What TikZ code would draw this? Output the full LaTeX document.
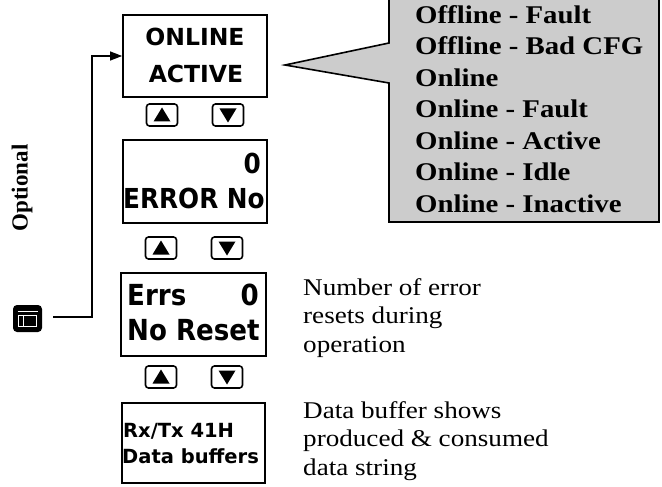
\documentclass[tikz,border=0pt]{standalone}
\usepackage{fontspec}
\setmainfont{Liberation Serif}
\newfontfamily\wideserif[FakeStretch=1.13]{Liberation Serif}
\newfontfamily\lcdfont{DejaVu Sans}
\newfontfamily\lcdnarrow[FakeStretch=0.9]{DejaVu Sans}
\usetikzlibrary{arrows.meta,calc}
\tikzset{
  lcdbox/.style={draw, line width=1.8pt, inner sep=0pt},
  btn/.style={draw, line width=1.6pt, rounded corners=3pt, minimum width=31pt, minimum height=22pt, inner sep=0pt},
  lcdA/.style={inner sep=0pt, font=\lcdfont\bfseries\fontsize{23.5}{26}\selectfont},
  lcdB/.style={inner sep=0pt, font=\lcdnarrow\bfseries\fontsize{27.5}{30}\selectfont},
  lcdD/.style={inner sep=0pt, font=\lcdnarrow\bfseries\fontsize{29}{32}\selectfont},
  lcdC/.style={inner sep=0pt, font=\lcdfont\bfseries\fontsize{19.5}{22}\selectfont},
  note/.style={inner sep=0pt, align=left, font=\wideserif\fontsize{24}{28.5}\selectfont},
  calltext/.style={inner sep=0pt, align=left, font=\wideserif\bfseries\fontsize{25.5}{31.5}\selectfont},
  conn/.style={line width=1.2pt},
}
\newcommand\btnup[2]{\node[btn] (#1) at (#2) {};
  \fill (#1.center) ++(0,-7.5) -- ++(8.5,14) -- ++(-17,0) -- cycle;}
\newcommand\btndown[2]{\node[btn] (#1) at (#2) {};
  \fill (#1.center) ++(0,7.5) -- ++(8.5,-14) -- ++(-17,0) -- cycle;}
\begin{document}
\begin{tikzpicture}[x=1pt,y=-1pt]
\useasboundingbox (0,0) rectangle (662,487);
\clip (0,0) rectangle (662,487);
% callout
\draw[line width=1.6pt, fill=black!20] (389,-5) -- (659,-5) -- (659,222) -- (389,222) -- (389,83) -- (285,65) -- (389,43) -- cycle;
\node[calltext, anchor=base west] (states) at (415,212) {Offline - Fault\\Offline - Bad CFG\\Online\\Online - Fault\\Online - Active\\Online - Idle\\Online - Inactive};
% LCD boxes
\node[lcdbox, minimum width=144pt, minimum height=82pt] (box1) at (195,56) {};
\node[lcdbox, minimum width=144pt, minimum height=83pt] (box2) at (195,181.5) {};
\node[lcdbox, minimum width=145pt, minimum height=83pt] (box3) at (193.5,314.5) {};
\node[lcdbox, minimum width=143pt, minimum height=80pt] (box4) at (193.5,443) {};
\node[lcdA, anchor=base] (t1a) at (195,46) {ONLINE};
\node[lcdA, anchor=base] (t1b) at (196,83) {ACTIVE};
\node[lcdB, anchor=base east] (t2a) at (261,173) {0};
\node[lcdB, anchor=base west] (t2b) at (123,208) {ERROR No};
\node[lcdD, anchor=base west] (t3a) at (127,305) {Errs};
\node[lcdD, anchor=base east] (t3b) at (259,305) {0};
\node[lcdD, anchor=base west] (t3c) at (127,340) {No Reset};
\node[lcdC, anchor=base west] (t4a) at (123,437) {Rx/Tx 41H};
\node[lcdC, anchor=base west] (t4b) at (122,463) {Data buffers};
% buttons
\btnup{u1}{162,115} \btndown{d1}{228,115}
\btnup{u2}{161,248} \btndown{d2}{227,248}
\btnup{u3}{161,377} \btndown{d3}{227,377}
% notes
\node[note, anchor=base west] (n1) at (303,352) {Number of error\\resets during\\operation};
\node[note, anchor=base west] (n2) at (303,475) {Data buffer shows\\produced \& consumed\\data string};
% optional label
\node[inner sep=0pt, rotate=90, font=\bfseries\fontsize{23}{25}\selectfont] (opt) at (22,188) {Optional};
% key icon
\node[fill=black, rounded corners=4pt, minimum width=29pt, minimum height=27pt, inner sep=0pt] (key) at (27.5,318.5) {};
\draw[white, line width=1pt] ($(key.center)+(-10,-7)$) -- ($(key.center)+(10,-7)$);
\draw[white, line width=0.9pt] ($(key.center)+(-9,-3)$) rectangle ($(key.center)+(9,8)$);
\draw[white, line width=0.9pt] ($(key.center)+(-4,-3)$) -- ($(key.center)+(-4,8)$);
\coordinate (kstart) at (53,317);
\coordinate (bend) at (92,317);
\draw[conn, -{Triangle[length=12pt, width=9pt]}] (kstart) -- (bend) |- (box1.west);
\end{tikzpicture}
\end{document}
